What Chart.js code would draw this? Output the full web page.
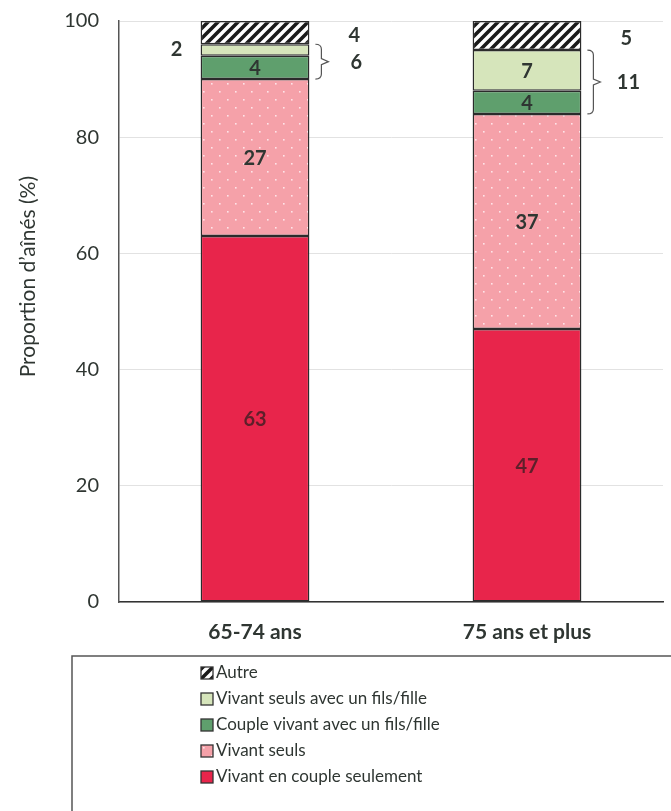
<!DOCTYPE html>
<html>
<head>
<meta charset="utf-8">
<script src="https://cdn.jsdelivr.net/npm/chart.js@4"></script>
<style>
  html, body { margin: 0; padding: 0; background: #fff; }
  #wrap { width: 671px; height: 811px; }
</style>
</head>
<body>
<div id="wrap"><canvas id="chart" width="671" height="811"></canvas></div>
<script>
const categories = ['65-74 ans', '75 ans et plus'];
const coupleSeul   = [63, 47];
const seuls        = [27, 37];
const coupleEnfant = [4, 4];
const seulEnfant   = [2, 7];
const autre        = [4, 5];
const yTicks = [0, 20, 40, 60, 80, 100];
const yTitle = 'Proportion d\u2019aînés (%)';

const FONT = "Lato, 'Open Sans', sans-serif";
const TXT = '#2f3632';

function makePattern(w, h, draw) {
  const c = document.createElement('canvas');
  c.width = w; c.height = h;
  const g = c.getContext('2d');
  draw(g);
  return document.getElementById('chart').getContext('2d').createPattern(c, 'repeat');
}

const hatch = makePattern(10, 10, g => {
  g.fillStyle = '#fff'; g.fillRect(0, 0, 10, 10);
  g.strokeStyle = '#1a1a1a'; g.lineWidth = 3.6;
  g.beginPath();
  g.moveTo(-5, 15); g.lineTo(15, -5);
  g.moveTo(-10, 10); g.lineTo(10, -10);
  g.moveTo(0, 20); g.lineTo(20, 0);
  g.stroke();
});
const dots = makePattern(16, 16, g => {
  g.fillStyle = '#f5a1a9'; g.fillRect(0, 0, 16, 16);
  g.fillStyle = 'rgba(255,235,238,0.9)';
  g.fillRect(3, 3, 1.6, 1.6);
  g.fillRect(11, 11, 1.6, 1.6);
});

const datasets = [
  { label: 'Vivant en couple seulement', data: coupleSeul, backgroundColor: '#e8254b', txt: '#5e1f2a' },
  { label: 'Vivant seuls', data: seuls, backgroundColor: dots, txt: TXT },
  { label: 'Couple vivant avec un fils/fille', data: coupleEnfant, backgroundColor: '#5f9f6d', txt: TXT },
  { label: 'Vivant seuls avec un fils/fille', data: seulEnfant, backgroundColor: '#d6e5bb', txt: TXT },
  { label: 'Autre', data: autre, backgroundColor: hatch, txt: TXT },
].map(d => Object.assign(d, {
  borderColor: '#2b2b2b',
  borderWidth: 1.5,
  borderSkipped: false,
  categoryPercentage: 1,
  barPercentage: 0.4,
}));

const labelPlugin = {
  id: 'labels',
  afterDatasetsDraw(chart) {
    const ctx = chart.ctx;
    ctx.save();
    ctx.font = 'bold 20px ' + FONT;
    ctx.textAlign = 'center';
    ctx.textBaseline = 'middle';
    const last = chart.data.datasets.length - 1;
    categories.forEach((c, j) => {
      chart.data.datasets.forEach((ds, i) => {
        const el = chart.getDatasetMeta(i).data[j];
        const v = ds.data[j];
        const cy = (el.y + el.base) / 2;
        ctx.fillStyle = ds.txt;
        if (i === last) {
          ctx.fillText(v, el.x + el.width / 2 + 45, cy + 3);
        } else if (v < 3) {
          ctx.fillText(v, el.x - el.width / 2 - 24, cy - 1);
        } else {
          ctx.fillText(v, el.x, cy + 1);
        }
      });
      // accolade autour des deux segments "avec un fils/fille"
      const a = chart.getDatasetMeta(2).data[j];
      const b = chart.getDatasetMeta(3).data[j];
      const top = b.y, bot = a.base;
      const x0 = a.x + a.width / 2 + 6, x1 = x0 + 6;
      const mid = (top + bot) / 2;
      ctx.strokeStyle = '#555'; ctx.lineWidth = 1.2;
      ctx.beginPath();
      ctx.moveTo(x0, top); ctx.quadraticCurveTo(x1, top, x1, top + 5);
      ctx.lineTo(x1, mid - 3); ctx.lineTo(x1 + 7, mid); ctx.lineTo(x1, mid + 3);
      ctx.lineTo(x1, bot - 5); ctx.quadraticCurveTo(x1, bot, x0, bot);
      ctx.stroke();
      ctx.fillStyle = TXT;
      ctx.fillText(coupleEnfant[j] + seulEnfant[j], a.x + a.width / 2 + 47, mid + 1);
    });
    ctx.restore();
  }
};

const legendPlugin = {
  id: 'boxLegend',
  afterDraw(chart) {
    const ctx = chart.ctx;
    const ca = chart.chartArea;
    ctx.save();
    // titre de l'axe y
    ctx.font = '21px ' + FONT;
    ctx.fillStyle = TXT;
    ctx.textAlign = 'center';
    ctx.textBaseline = 'middle';
    ctx.translate(28, ca.top + (ca.bottom - ca.top) * 0.44);
    ctx.rotate(-Math.PI / 2);
    ctx.fillText(yTitle, 0, 0);
    ctx.setTransform(1, 0, 0, 1, 0, 0);

    const top = ca.bottom + 54;
    ctx.strokeStyle = '#555'; ctx.lineWidth = 1.5;
    ctx.strokeRect(72, top, 700, 300);
    ctx.font = '17px ' + FONT;
    ctx.textAlign = 'left';
    const list = chart.data.datasets.slice().reverse();
    list.forEach((ds, k) => {
      const y = top + 17 + k * 26;
      ctx.fillStyle = ds.backgroundColor;
      ctx.fillRect(201, y - 6, 12, 12);
      ctx.strokeStyle = '#333'; ctx.lineWidth = 1.3;
      ctx.strokeRect(201, y - 6, 12, 12);
      ctx.fillStyle = TXT;
      ctx.fillText(ds.label, 216, y);
    });
    ctx.restore();
  }
};

new Chart(document.getElementById('chart'), {
  type: 'bar',
  data: { labels: categories, datasets },
  options: {
    responsive: false,
    animation: false,
    layout: { padding: { top: 21, right: 8, left: 0, bottom: 0 } },
    plugins: { legend: { display: false }, tooltip: { enabled: false } },
    scales: {
      x: {
        stacked: true,
        grid: { display: false },
        border: { color: '#333', width: 1.5 },
        ticks: { color: TXT, font: { family: FONT, size: 21, weight: 'bold' }, padding: 10 },
        afterFit(s) { s.height = 209; s.paddingLeft = 0; s.paddingRight = 0; },
      },
      y: {
        stacked: true,
        min: 0, max: 100,
        afterBuildTicks(s) { s.ticks = yTicks.map(v => ({ value: v })); },
        grid: { color: '#e2e2e2', lineWidth: 1, drawTicks: false },
        border: { color: '#555', width: 1.5 },
        ticks: { color: TXT, font: { family: FONT, size: 20 }, padding: 20 },
        afterFit(s) { s.width = 119; s.paddingTop = 0; s.paddingBottom = 0; },
      }
    }
  },
  plugins: [labelPlugin, legendPlugin]
});
</script>
</body>
</html>
